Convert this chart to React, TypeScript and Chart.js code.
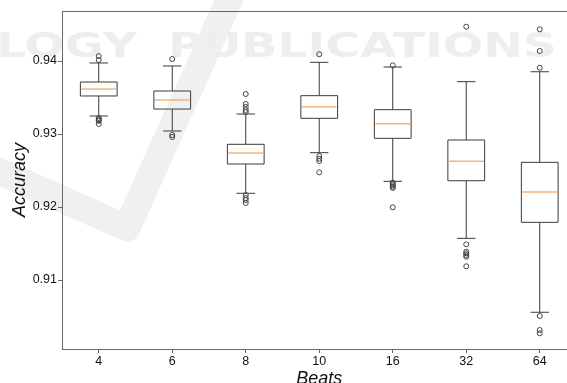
import React, { useEffect, useRef } from "react";
import { Chart, registerables } from "chart.js";

Chart.register(...registerables);

const categories = ["4", "6", "8", "10", "16", "32", "64"];
const whiskerHigh = [0.93973, 0.93932, 0.93274, 0.93982, 0.93918, 0.93717, 0.93853];
const q3 = [0.93712, 0.93589, 0.92859, 0.93525, 0.93333, 0.92918, 0.92612];
const median = [0.93616, 0.93466, 0.9274, 0.93374, 0.93141, 0.92626, 0.92205];
const q1 = [0.93521, 0.93342, 0.92589, 0.93215, 0.92941, 0.9236, 0.9179];
const whiskerLow = [0.93247, 0.93041, 0.92188, 0.92744, 0.92352, 0.91571, 0.90558];
const outliers4 = [0.94068, 0.94014, 0.9322, 0.93205, 0.9319, 0.9318, 0.93137];
const outliers6 = [0.94027, 0.92986, 0.9296];
const outliers8 = [0.93548, 0.93411, 0.9337, 0.93329, 0.93301, 0.92164, 0.92123, 0.92096, 0.92055];
const outliers10 = [0.94092, 0.92699, 0.92662, 0.9263, 0.92475];
const outliers16 = [0.9394, 0.92333, 0.92315, 0.92296, 0.92278, 0.9226, 0.91996];
const outliers32 = [0.9447, 0.91489, 0.91388, 0.91366, 0.91342, 0.91319, 0.91188];
const outliers64 = [0.94434, 0.94137, 0.93908, 0.90507, 0.90315, 0.9027];
const outliers = [outliers4, outliers6, outliers8, outliers10, outliers16, outliers32, outliers64];
const yTicks = [0.91, 0.92, 0.93, 0.94];
const xTitle = "Beats";
const yTitle = "Accuracy";
const watermarkLeft = "OLOGY";
const watermarkRight = "PUBLICATIONS";

const FONT = '"Liberation Sans", Arial, Helvetica, sans-serif';
const SPINE = "#666";
const LINE = "#3a3a3a";

const watermarkPlugin = {
  id: "watermark",
  beforeDraw(chart: any) {
    const ctx = chart.ctx;
    ctx.save();
    ctx.strokeStyle = "#f0f0f0";
    ctx.lineWidth = 27;
    ctx.lineJoin = "round";
    ctx.lineCap = "butt";
    ctx.beginPath();
    ctx.moveTo(-20, 163);
    ctx.lineTo(127, 228);
    ctx.lineTo(238, -20);
    ctx.stroke();
    ctx.fillStyle = "#eeeeee";
    ctx.font = 'bold 33px "DejaVu Sans", sans-serif';
    ctx.textBaseline = "alphabetic";
    const wR = ctx.measureText(watermarkRight).width;
    const sx = 389 / wR;
    ctx.save();
    ctx.translate(168, 57);
    ctx.scale(sx, 1);
    ctx.textAlign = "left";
    ctx.fillText(watermarkRight, 0, 0);
    ctx.restore();
    ctx.save();
    ctx.translate(137, 57);
    ctx.scale(sx, 1);
    ctx.textAlign = "right";
    ctx.fillText(watermarkLeft, 0, 0);
    ctx.restore();
    ctx.restore();
  },
};

const boxPlugin = {
  id: "boxes",
  beforeDatasetsDraw(chart: any) {
    const ctx = chart.ctx;
    const xs = chart.scales.x;
    const ys = chart.scales.y;
    const unit = xs.getPixelForValue(1) - xs.getPixelForValue(0);
    const half = unit * 0.25;
    const capHalf = half / 2;
    ctx.save();
    for (let i = 0; i < categories.length; i++) {
      const x = xs.getPixelForValue(i);
      const yQ1 = ys.getPixelForValue(q1[i]);
      const yQ3 = ys.getPixelForValue(q3[i]);
      const yMed = ys.getPixelForValue(median[i]);
      const yHi = ys.getPixelForValue(whiskerHigh[i]);
      const yLo = ys.getPixelForValue(whiskerLow[i]);
      ctx.strokeStyle = LINE;
      ctx.lineWidth = 1;
      ctx.beginPath();
      ctx.rect(x - half, yQ3, half * 2, yQ1 - yQ3);
      ctx.moveTo(x, yQ3);
      ctx.lineTo(x, yHi);
      ctx.moveTo(x - capHalf, yHi);
      ctx.lineTo(x + capHalf, yHi);
      ctx.moveTo(x, yQ1);
      ctx.lineTo(x, yLo);
      ctx.moveTo(x - capHalf, yLo);
      ctx.lineTo(x + capHalf, yLo);
      ctx.stroke();
      ctx.strokeStyle = "#f7b27a";
      ctx.lineWidth = 1.5;
      ctx.beginPath();
      ctx.moveTo(x - half + 1, yMed);
      ctx.lineTo(x + half - 1, yMed);
      ctx.stroke();
    }
    ctx.restore();
  },
  afterDraw(chart: any) {
    const ctx = chart.ctx;
    const xs = chart.scales.x;
    const area = chart.chartArea;
    ctx.save();
    ctx.strokeStyle = SPINE;
    ctx.lineWidth = 1;
    ctx.beginPath();
    ctx.moveTo(area.left, area.top + 0.5);
    ctx.lineTo(area.right, area.top + 0.5);
    ctx.stroke();
    ctx.fillStyle = "#111";
    ctx.font = `italic 18px ${FONT}`;
    ctx.textAlign = "center";
    ctx.textBaseline = "alphabetic";
    ctx.fillText(xTitle, xs.getPixelForValue(3), 384);
    ctx.translate(25, (area.top + area.bottom) / 2);
    ctx.rotate(-Math.PI / 2);
    ctx.fillText(yTitle, 0, 0);
    ctx.restore();
  },
};

export default function App() {
  const ref = useRef<HTMLCanvasElement | null>(null);
  useEffect(() => {
    if (!ref.current) return;
    const points: { x: number; y: number }[] = [];
    outliers.forEach((arr, i) => arr.forEach((v) => points.push({ x: i, y: v })));
    const chart = new Chart(ref.current, {
      type: "scatter",
      data: {
        datasets: [
          {
            data: points,
            pointRadius: 2.5,
            pointBorderWidth: 1,
            borderColor: "#444",
            backgroundColor: "rgba(0,0,0,0)",
            showLine: false,
          } as any,
        ],
      },
      options: {
        responsive: false,
        animation: false,
        layout: { autoPadding: false, padding: { top: 11, right: 0, left: 0, bottom: 0 } },
        plugins: { legend: { display: false }, tooltip: { enabled: false } },
        scales: {
          x: {
            type: "linear",
            min: -0.5,
            max: 6.371,
            afterBuildTicks: (s: any) => {
              s.ticks = categories.map((_, i) => ({ value: i }));
            },
            afterFit: (s: any) => {
              s.height = 34;
              s.paddingLeft = 0;
              s.paddingRight = 0;
            },
            grid: { drawOnChartArea: false, drawTicks: true, tickLength: 4, color: SPINE },
            border: { display: true, color: SPINE, width: 1 },
            ticks: {
              font: { family: FONT, size: 12.5 },
              color: "#111",
              padding: 1,
              maxRotation: 0,
              autoSkip: false,
              callback: (v: any) => categories[v] ?? "",
            },
          },
          y: {
            type: "linear",
            min: 0.90055,
            max: 0.94685,
            afterBuildTicks: (s: any) => {
              s.ticks = yTicks.map((v) => ({ value: v }));
            },
            afterFit: (s: any) => {
              s.width = 62;
              s.paddingTop = 0;
              s.paddingBottom = 0;
            },
            grid: { drawOnChartArea: false, drawTicks: true, tickLength: 4, color: SPINE },
            border: { display: true, color: SPINE, width: 1 },
            ticks: {
              font: { family: FONT, size: 12.5 },
              color: "#111",
              padding: 1,
              autoSkip: false,
              callback: (v: any) => Number(v).toFixed(2),
            },
          },
        },
      },
      plugins: [watermarkPlugin, boxPlugin],
    } as any);
    return () => chart.destroy();
  }, []);
  return (
    <div style={{ position: "absolute", left: 0, top: 0, width: 567, height: 383, background: "#fff" }}>
      <canvas ref={ref} width={567} height={383} style={{ display: "block" }} />
    </div>
  );
}
